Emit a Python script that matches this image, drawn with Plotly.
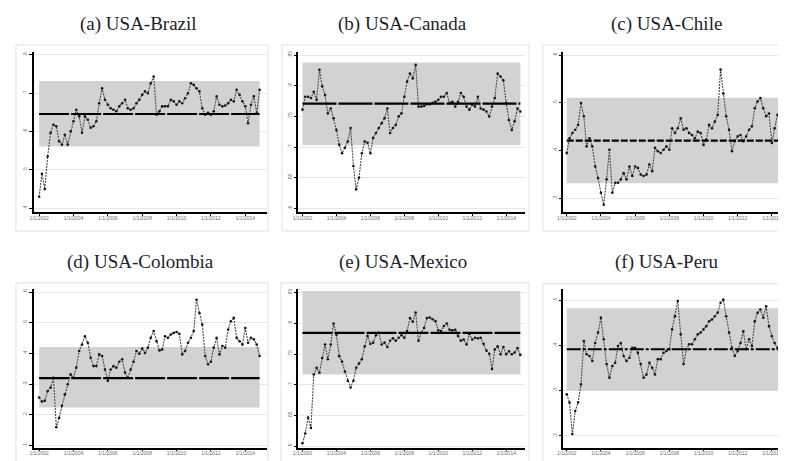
import plotly.graph_objects as go
import pandas as pd

# ---------------- data ----------------
dates = pd.date_range("2002-01-01", periods=78, freq="2MS")

titles = ["(a) USA-Brazil", "(b) USA-Canada", "(c) USA-Chile",
          "(d) USA-Colombia", "(e) USA-Mexico", "(f) USA-Peru"]

brazil = [.43, .49, .45, .535, .597, .618,
          .614, .575, .566, .592, .566, .601,
          .627, .657, .64, .597, .64, .631,
          .61, .614, .627, .674, .713, .683,
          .67, .661, .657, .653, .666, .674,
          .683, .661, .657, .661, .674, .683,
          .696, .705, .70, .726, .744, .644,
          .653, .666, .666, .666, .683, .679,
          .67, .679, .674, .687, .70, .726,
          .722, .713, .705, .661, .644, .649,
          .644, .653, .692, .67, .666, .668,
          .674, .683, .679, .709, .696, .679,
          .666, .622, .67, .692, .649, .709]

canada = [.761, .782, .782, .78, .79, .777,
          .826, .799, .785, .755, .763, .747,
          .728, .704, .69, .699, .709, .731,
          .669, .631, .65, .69, .709, .707,
          .69, .715, .723, .731, .739, .747,
          .763, .723, .731, .736, .75, .755,
          .782, .807, .82, .812, .834, .766,
          .766, .767, .77, .77, .772, .774,
          .777, .782, .782, .788, .772, .774,
          .766, .774, .788, .782, .766, .761,
          .769, .766, .782, .763, .761, .758,
          .75, .766, .78, .82, .815, .809,
          .772, .744, .728, .742, .763, .758]

chile = [.395, .426, .437, .444, .454, .50,
         .472, .409, .426, .409, .367, .343,
         .312, .287, .34, .402, .312, .333,
         .333, .34, .353, .34, .367, .347,
         .367, .364, .35, .347, .35, .371,
         .357, .406, .399, .395, .402, .409,
         .402, .447, .437, .447, .468, .444,
         .447, .437, .433, .426, .44, .437,
         .412, .423, .454, .447, .461, .475,
         .57, .52, .472, .444, .399, .42,
         .43, .433, .42, .43, .444, .451,
         .489, .503, .51, .489, .472, .478,
         .416, .447, .475, .468, .451, .388]

colombia = [.257, .244, .246, .278, .289, .321,
            .16, .19, .23, .267, .30, .332,
            .321, .354, .408, .429, .456, .435,
            .386, .359, .359, .397, .392, .348,
            .311, .348, .359, .354, .373, .381,
            .338, .321, .348, .373, .408, .399,
            .416, .402, .419, .451, .473, .44,
            .41, .413, .456, .451, .462, .467,
            .47, .464, .397, .408, .435, .451,
            .473, .575, .532, .494, .392, .365,
            .373, .419, .451, .397, .424, .419,
            .478, .505, .516, .451, .44, .429,
            .483, .435, .451, .446, .429, .392]

mexico = [.605, .621, .647, .63, .717, .728,
          .72, .744, .766, .742, .766, .80,
          .782, .747, .738, .722, .707, .696,
          .707, .728, .735, .742, .763, .78,
          .767, .769, .781, .785, .766, .769,
          .762, .772, .776, .772, .777, .781,
          .777, .788, .809, .803, .818, .772,
          .785, .793, .809, .81, .807, .804,
          .789, .788, .796, .80, .79, .789,
          .79, .78, .772, .774, .766, .783,
          .774, .777, .776, .777, .767, .756,
          .751, .726, .758, .763, .75, .762,
          .75, .755, .75, .753, .76, .749]

peru = [.292, .274, .204, .255, .274, .314,
        .41, .381, .377, .366, .406, .429,
        .462, .414, .359, .329, .355, .362,
        .399, .406, .377, .366, .373, .395,
        .395, .384, .359, .329, .336, .362,
        .351, .336, .37, .37, .384, .388,
        .392, .436, .465, .499, .425, .359,
        .392, .403, .403, .414, .425, .429,
        .436, .443, .454, .458, .465, .473,
        .495, .502, .465, .429, .395, .377,
        .388, .406, .432, .392, .414, .399,
        .454, .473, .48, .462, .487, .443,
        .421, .406, .395, .377, .359, .34]

series = [brazil, canada, chile, colombia, mexico, peru]
means = [0.646, 0.771, 0.421, 0.320, 0.785, 0.392]
band_lo = [0.561, 0.703, 0.332, 0.224, 0.717, 0.300]
band_hi = [0.732, 0.838, 0.511, 0.421, 0.853, 0.483]

ytick_vals = [[.4, .5, .6, .7, .8],
              [.6, .65, .7, .75, .8, .85],
              [.3, .4, .5, .6],
              [.1, .2, .3, .4, .5, .6],
              [.6, .65, .7, .75, .8, .85],
              [.2, .3, .4, .5]]
xtick_years = [2002, 2004, 2006, 2008, 2010, 2012, 2014]
xtick_labels = [f"1/1/{y}" for y in xtick_years]

# ---------------- layout geometry ----------------
# the page body has an 8px margin, so the figure is drawn 8px smaller and
# every target pixel position is shifted by that offset
OFF = 8
W, H = 786 - OFF, 461 - OFF


def px(x):
    return (x - OFF) / W


def py(y):
    return 1 - (y - OFF) / H


col_dom = [[px(28.3), px(263)], [px(294.7), px(523)], [px(561.7), 1.0]]
row_dom = [[py(211), py(50.5)], [py(447.5), py(288.5)]]
col_xrange = [["2001-09-17", "2015-04-08"],
              ["2001-10-07", "2015-02-10"],
              ["2001-10-22", "2014-10-30"]]
y_ranges = [[.390, .807], [.594, .8545], [.2715, .606],
            [.094, .609], [.598, .856], [.174, .525]]
title_pos = [(133, 22), (400, 22), (666, 22), (135, 261), (400, 261), (666, 261)]
boxes = [(10, 43, 264, 230), (278, 43, 527, 230), (541, 43, 800, 230),
         (10, 282, 264, 480), (277, 282, 527, 480), (541, 283, 800, 480)]
mean_dash = ["30px,2px", "34px,2px", "7px,2px", "30px,2px", "30px,2px", "14px,2px,3px,2px"]

fig = go.Figure()
layout = dict(width=W, height=H, margin=dict(l=0, r=0, t=0, b=0),
              paper_bgcolor="white", plot_bgcolor="white", showlegend=False,
              annotations=[], shapes=[])

tickfont = dict(family="Liberation Sans", size=5, color="#667080")

for i in range(6):
    r, c = divmod(i, 3)
    sfx = "" if i == 0 else str(i + 1)
    xa, ya = "x" + sfx, "y" + sfx
    d0, d1 = dates[0], dates[-1]
    # confidence band
    fig.add_trace(go.Scatter(x=[d0, d1, d1, d0], y=[band_lo[i], band_lo[i], band_hi[i], band_hi[i]],
                             fill="toself", fillcolor="#d2d2d2", line=dict(width=0),
                             mode="lines", xaxis=xa, yaxis=ya, hoverinfo="skip"))
    # series
    fig.add_trace(go.Scatter(x=dates, y=series[i], mode="lines+markers",
                             line=dict(color="#4a4a4a", width=1.1, dash="2px,1px"),
                             marker=dict(size=2.6, color="#151515"),
                             xaxis=xa, yaxis=ya))
    # mean line
    fig.add_trace(go.Scatter(x=[d0, d1], y=[means[i], means[i]], mode="lines",
                             line=dict(color="black", width=2.2, dash=mean_dash[i]),
                             xaxis=xa, yaxis=ya, hoverinfo="skip"))

    layout["xaxis" + sfx] = dict(
        domain=col_dom[c], anchor=ya, type="date", range=col_xrange[c],
        tickvals=[pd.Timestamp(f"{y}-01-01") for y in xtick_years], ticktext=xtick_labels,
        showline=True, linecolor="black", linewidth=1.5, ticks="outside", ticklen=2,
        tickcolor="black", tickwidth=1, tickfont=tickfont, showgrid=False, zeroline=False,
        tickangle=0, ticklabelstandoff=-2)
    layout["yaxis" + sfx] = dict(
        domain=row_dom[r], anchor=xa, range=y_ranges[i],
        tickvals=ytick_vals[i], ticktext=[f"{v:g}".replace("0.", ".") for v in ytick_vals[i]],
        tickangle=-90, showline=True, linecolor="black", linewidth=1.5, ticks="outside",
        ticklen=3, tickcolor="black", tickwidth=1, tickfont=tickfont,
        showgrid=True, gridcolor="#e6e6e6", gridwidth=1, zeroline=False)

    tx, ty = title_pos[i]
    layout["annotations"].append(dict(
        text=titles[i], x=px(tx), y=py(ty), xref="paper", yref="paper",
        xanchor="center", yanchor="middle", showarrow=False,
        font=dict(family="Liberation Serif", size=19, color="#1e1e2a")))
    bx0, by0, bx1, by1 = boxes[i]
    layout["shapes"].append(dict(
        type="rect", xref="paper", yref="paper",
        x0=px(bx0), x1=px(bx1), y0=py(by1), y1=py(by0),
        line=dict(color="#e2e2e2", width=1), fillcolor="rgba(0,0,0,0)", layer="below"))

fig.update_layout(**layout)
fig.write_html("out.html")
